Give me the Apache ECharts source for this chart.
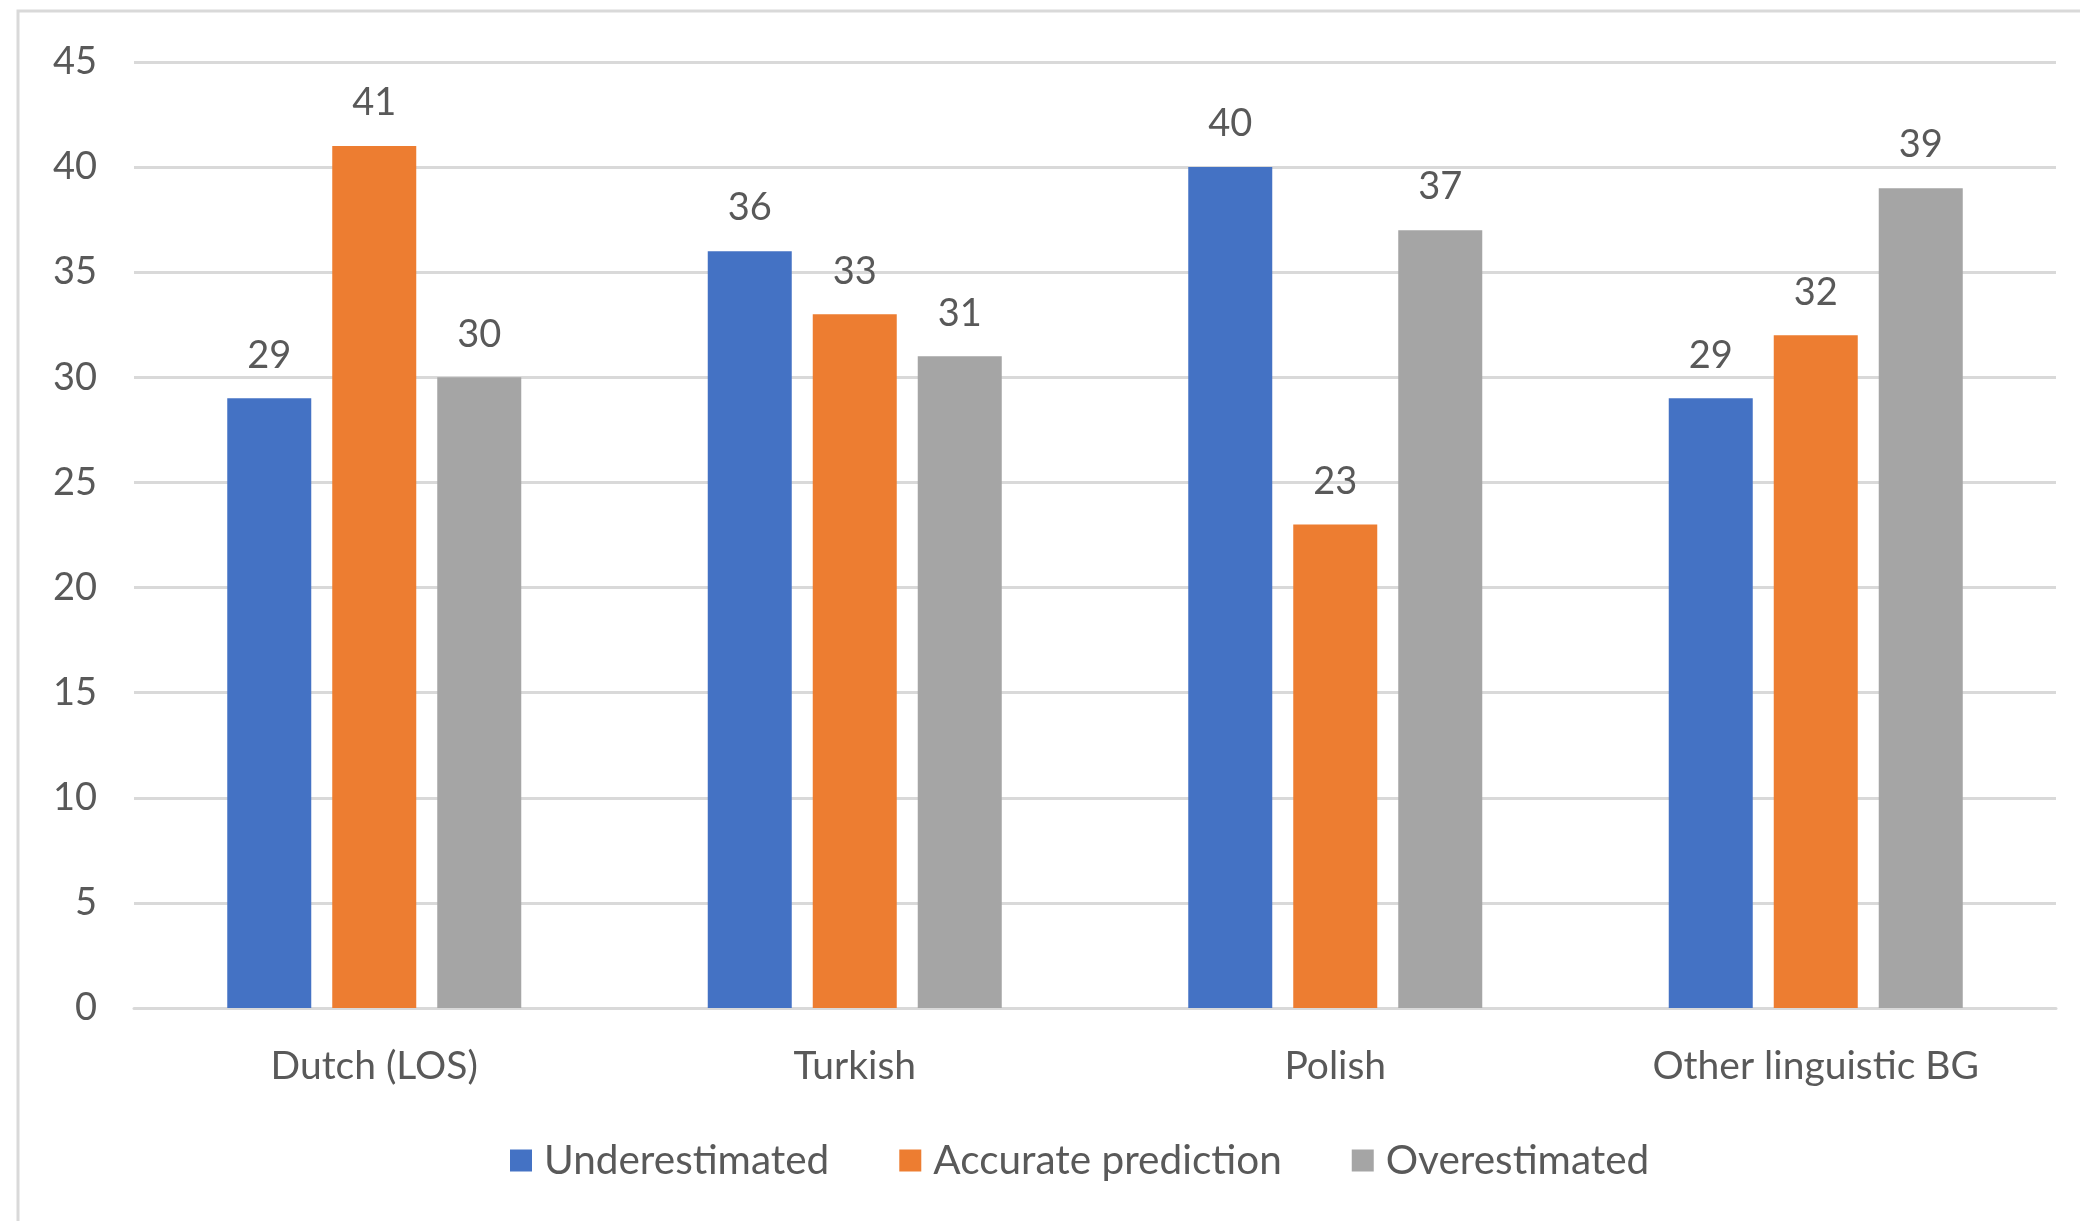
<!DOCTYPE html>
<html>
<head>
<meta charset="utf-8">
<script src="https://cdn.jsdelivr.net/npm/echarts@6/dist/echarts.min.js"></script>
<style>
  html, body { margin: 0; padding: 0; background: #ffffff; }
  #chart { width: 2080px; height: 1221px; }
</style>
</head>
<body>
<div id="chart"></div>
<script>
// Language background groups
const categories = ['Dutch (LOS)', 'Turkish', 'Polish', 'Other linguistic BG'];

// Share of pupils per prediction outcome (%)
const underestimated = [29, 36, 40, 29];
const accuratePrediction = [41, 33, 23, 32];
const overestimated = [30, 31, 37, 39];

const seriesNames = ['Underestimated', 'Accurate prediction', 'Overestimated'];
const seriesColors = ['#4472C4', '#ED7D31', '#A5A5A5'];

const FONT = 'Lato, "Open Sans", sans-serif';
const TEXT = '#595959';

const chart = echarts.init(document.getElementById('chart'), null, { renderer: 'canvas' });

function barSeries(name, values, color) {
  return {
    name: name,
    type: 'bar',
    data: values,
    barWidth: 84,
    barGap: '25%',
    itemStyle: { color: color },
    label: {
      show: true,
      position: 'top',
      distance: 24,
      color: TEXT,
      fontFamily: FONT,
      fontSize: 38
    },
    emphasis: { disabled: true }
  };
}

chart.setOption({
  animation: false,
  backgroundColor: '#ffffff',
  graphic: [{
    type: 'rect',
    shape: { x: 18, y: 11, width: 2300, height: 1400 },
    style: { fill: 'none', stroke: '#D9D9D9', lineWidth: 3 },
    silent: true,
    z: -1
  }],
  grid: { left: 134, right: 24, top: 62, bottom: 213, containLabel: false },
  legend: {
    data: seriesNames,
    bottom: 35,
    left: 505,
    itemWidth: 22,
    itemHeight: 22,
    itemGap: 70,
    icon: 'rect',
    textStyle: { color: TEXT, fontFamily: FONT, fontSize: 40.5, padding: [0, 0, 0, 7] }
  },
  xAxis: {
    type: 'category',
    data: categories,
    axisLine: { show: true, lineStyle: { color: '#D9D9D9', width: 3 } },
    axisTick: { show: false },
    axisLabel: { color: TEXT, fontFamily: FONT, fontSize: 39, margin: 39 }
  },
  yAxis: {
    type: 'value',
    min: 0,
    max: 45,
    interval: 5,
    axisLine: { show: false },
    axisTick: { show: false },
    splitLine: { lineStyle: { color: '#D9D9D9', width: 3 } },
    axisLabel: { color: TEXT, fontFamily: FONT, fontSize: 38, margin: 37 }
  },
  series: [
    barSeries(seriesNames[0], underestimated, seriesColors[0]),
    barSeries(seriesNames[1], accuratePrediction, seriesColors[1]),
    barSeries(seriesNames[2], overestimated, seriesColors[2])
  ]
});
</script>
</body>
</html>
